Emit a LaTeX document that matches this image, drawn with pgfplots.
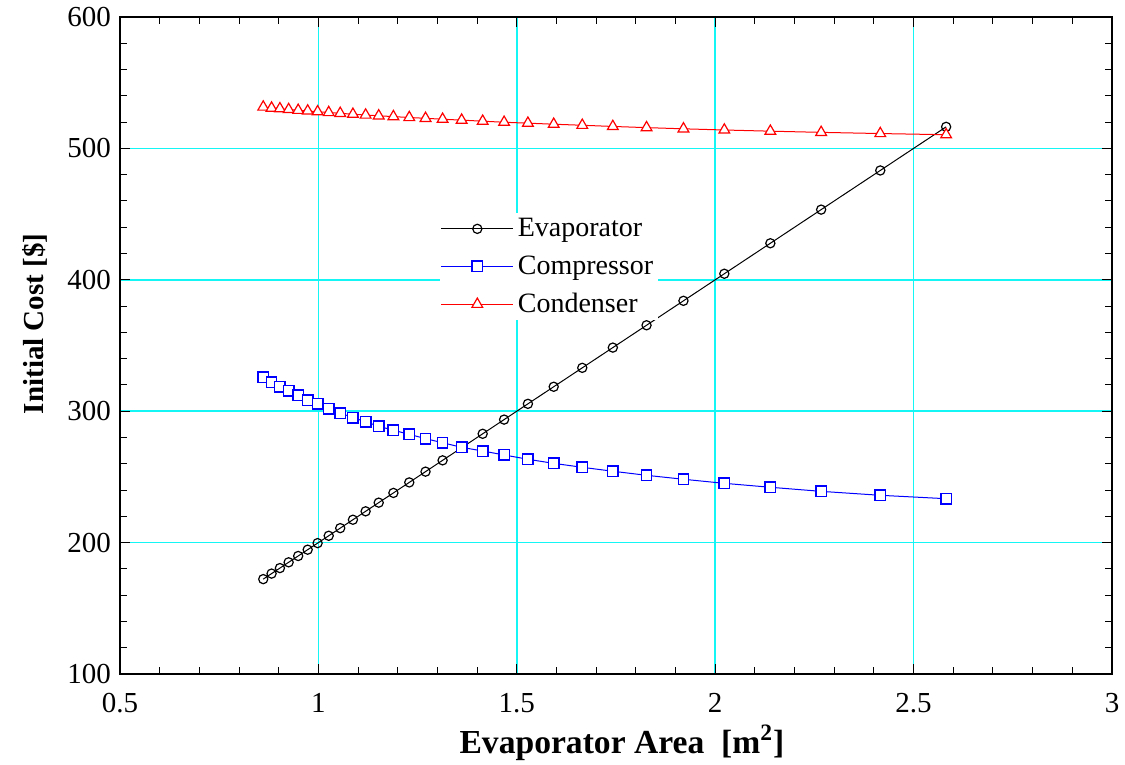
\documentclass[border=0pt]{standalone}
\usepackage{fontspec}
\setmainfont{Liberation Serif}
\usepackage{pgfplots}
\pgfplotsset{compat=1.18}
\definecolor{gridcyan}{RGB}{20,245,245}
\begin{document}
\begin{tikzpicture}
\begin{axis}[
  name=ax,
  scale only axis,
  width=496pt, height=328.5pt,
  xmin=0.5, xmax=3, ymin=100, ymax=600,
  xtick={0.5,1,1.5,2,2.5,3},
  ytick={100,200,300,400,500,600},
  xticklabels={0.5,1,1.5,2,2.5,3},
  yticklabels={100,200,300,400,500,600},
  minor x tick num=4, minor y tick num=4,
  tick align=inside,
  major tick length=5pt, minor tick length=3.5pt,
  grid=major,
  major grid style={gridcyan, line width=0.8pt},
  axis line style={line width=1pt},
  every tick/.style={black, line width=0.5pt},
  /pgf/number format/assume math mode=true,
  tick label style={font=\rmfamily\fontsize{14.5}{16}\selectfont},
  xticklabel style={yshift=-6pt},
  yticklabel style={xshift=-1pt},
  xlabel={\textbf{Evaporator Area\enspace[m\textsuperscript{2}]}},
  ylabel={\textbf{Initial Cost [\$]}},
  xlabel style={font=\fontsize{16.8}{18}\selectfont, at={(axis description cs:0.506,-0.105)}, anchor=center},
  ylabel style={font=\fontsize{14.5}{18}\selectfont, at={(axis description cs:-0.086,0.533)}, anchor=center, rotate=0},
  legend style={at={(axis description cs:0.322,0.702)}, anchor=north west,
    draw=none, fill=white, font=\fontsize{14}{16}\selectfont,
    row sep=4pt, inner sep=0.5pt,
    /tikz/every even column/.append style={column sep=2pt}},
  legend cell align=left,
  legend image code/.code={\draw[mark repeat=2,mark phase=2,#1] plot coordinates {(0pt,0pt) (18pt,0pt) (36pt,0pt)};},
]
\addplot[black, line width=0.5pt, mark=o, mark size=2.3pt, mark options={fill=white, line width=0.6pt}] coordinates {
(0.861,172.2) (0.882,176.4) (0.903,180.6) (0.925,185.0) (0.949,189.8) (0.973,194.6)
(0.998,199.6) (1.026,205.2) (1.055,211.0) (1.087,217.4) (1.119,223.8) (1.152,230.4)
(1.189,237.8) (1.229,245.8) (1.270,254.0) (1.313,262.6) (1.361,272.2) (1.414,282.8)
(1.468,293.6) (1.528,305.6) (1.593,318.6) (1.665,333.0) (1.742,348.4) (1.827,365.4)
(1.920,384.0) (2.023,404.6) (2.139,427.8) (2.267,453.4) (2.416,483.2) (2.582,516.4)
};
\addlegendentry{Evaporator}
\addplot[blue, line width=0.5pt, mark=square*, mark size=2.6pt, mark options={fill=white, line width=0.7pt}] coordinates {
(0.861,325.8) (0.882,322.0) (0.903,318.6) (0.925,315.4) (0.949,312.1) (0.973,308.5)
(0.998,305.5) (1.026,301.9) (1.055,298.6) (1.087,295.1) (1.119,292.0) (1.152,288.5)
(1.189,285.5) (1.229,282.4) (1.270,279.1) (1.313,276.0) (1.361,272.5) (1.414,269.7)
(1.468,266.7) (1.528,263.4) (1.593,260.3) (1.665,257.3) (1.742,254.3) (1.827,251.2)
(1.920,248.2) (2.023,245.1) (2.139,242.1) (2.267,239.0) (2.416,236.0) (2.582,233.4)
};
\addlegendentry{Compressor}
\addplot[red, line width=0.5pt, mark=triangle*, mark size=3.1pt, mark options={fill=white, line width=0.6pt}] coordinates {
(0.861,531.5) (0.882,530.7) (0.903,530.2) (0.925,529.6) (0.949,529.0) (0.973,528.5)
(0.998,527.9) (1.026,527.3) (1.055,526.7) (1.087,526.0) (1.119,525.4) (1.152,524.8)
(1.189,524.2) (1.229,523.5) (1.270,522.9) (1.313,522.2) (1.361,521.5) (1.414,520.7)
(1.468,519.9) (1.528,519.2) (1.593,518.4) (1.665,517.6) (1.742,516.7) (1.827,515.8)
(1.920,514.9) (2.023,514.0) (2.139,513.1) (2.267,512.2) (2.416,511.3) (2.582,510.4)
};
\addlegendentry{Condenser}
\end{axis}
\pgfresetboundingbox
\path[use as bounding box] ([xshift=-60pt,yshift=-45.5pt]ax.south west) rectangle ([xshift=6.5pt,yshift=8.5pt]ax.north east);
\end{tikzpicture}
\end{document}
